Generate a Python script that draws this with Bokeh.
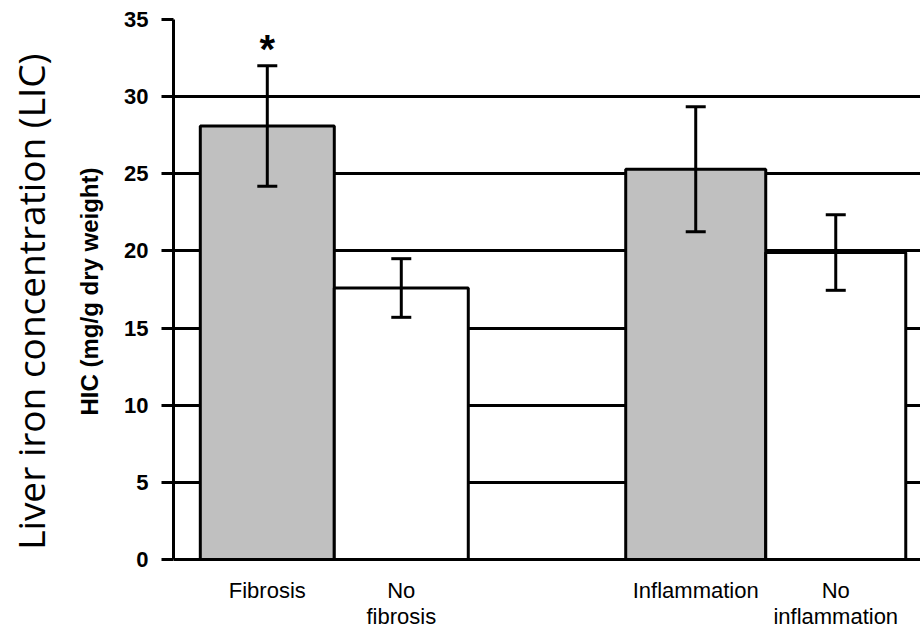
from bokeh.plotting import figure
from bokeh.models import (Range1d, LinearAxis, FixedTicker, Whisker, ColumnDataSource,
                          TeeHead, Grid, Title)
from bokeh.core.properties import value
from bokeh.embed import file_html
from bokeh.resources import INLINE

# ---- data ----
categories = ["Fibrosis", "No\nfibrosis", "Inflammation", "No\ninflammation"]
means = [28.1, 17.6, 25.3, 19.9]
errors = [3.9, 1.9, 4.05, 2.45]
significant = [True, False, False, False]
y_ticks = [0, 5, 10, 15, 20, 25, 30, 35]

# ---- layout (x in units of one bar width) ----
X_END = 5.575
GROUP_START = [0.2, 3.375]
GROUP_BAR_W = [1.0, 1.045]
Y_MIN = -4.79          # frame reaches below zero to hold the category names
LABEL_Y = -1.2

xs, ws, colors = [], [], []
for i in range(len(categories)):
    g, j = divmod(i, 2)
    w = GROUP_BAR_W[g]
    xs.append(GROUP_START[g] + w * (j + 0.5))
    ws.append(w)
    colors.append("#c0c0c0" if j == 0 else "#ffffff")

upper = [m + e for m, e in zip(means, errors)]
lower = [m - e for m, e in zip(means, errors)]
src = ColumnDataSource(dict(x=xs, w=ws, mean=means, upper=upper, lower=lower,
                            color=colors))

p = figure(width=920, height=633, output_backend="svg", toolbar_location=None,
           x_range=Range1d(0, X_END), y_range=Range1d(Y_MIN, 35),
           min_border_left=173, min_border_right=0, min_border_top=19,
           min_border_bottom=0, x_axis_type=None, y_axis_type=None)
p.outline_line_color = None
p.background_fill_color = "white"

# y axis
yax = LinearAxis(ticker=FixedTicker(ticks=y_ticks), bounds=(0, 35))
yax.axis_line_width = 3
yax.axis_line_color = "black"
yax.major_tick_line_width = 3
yax.major_tick_line_color = "black"
yax.major_tick_out = 12
yax.major_tick_in = 0
yax.minor_tick_line_color = None
yax.major_label_standoff = 13
yax.major_label_text_font = "Liberation Sans"
yax.major_label_text_font_size = "22px"
yax.major_label_text_font_style = "bold"
yax.major_label_text_color = "black"
p.add_layout(yax, "left")

# axis titles
t_hic = Title(text="HIC (mg/g dry weight)", align="right", offset=148,
              text_font="Liberation Sans", text_font_size="24px",
              text_font_style="bold", text_color="black", standoff=37)
p.add_layout(t_hic, "left")

t_lic = Title(text="Liver iron concentration (LIC)", align="right", offset=34,
              text_font="Open Sans", text_font_size="37px",
              text_font_style="normal", text_color="black", standoff=0)
p.add_layout(t_lic, "left")

# grid (the line at 0 doubles as the x axis)
grid = Grid(dimension=1, ticker=FixedTicker(ticks=y_ticks))
grid.grid_line_color = "black"
grid.grid_line_width = 3
p.add_layout(grid)

p.vbar(x="x", top="mean", width="w", bottom=0, source=src, fill_color="color",
       line_color="black", line_width=3)

wh = Whisker(base="x", upper="upper", lower="lower", source=src,
             line_width=3, line_color="black", level="overlay",
             upper_head=TeeHead(size=20, line_width=3, line_color="black"),
             lower_head=TeeHead(size=20, line_width=3, line_color="black"))
p.add_layout(wh)

# category names under the bars
p.text(x=xs, y=[LABEL_Y] * len(xs), text=categories,
       text_font=value("Liberation Sans"), text_font_size="22px",
       text_align="center", text_baseline="top", text_line_height=1.05,
       text_color="black")

sx = [x for x, s in zip(xs, significant) if s]
sy = [u for u, s in zip(upper, significant) if s]
p.text(x=sx, y=sy, text=["*"] * len(sx), text_font=value("Liberation Sans"),
       text_font_size="40px", text_font_style="bold", text_align="center",
       text_baseline="bottom", y_offset=5, text_color="black")

open("out.html", "w").write(file_html(p, INLINE))
